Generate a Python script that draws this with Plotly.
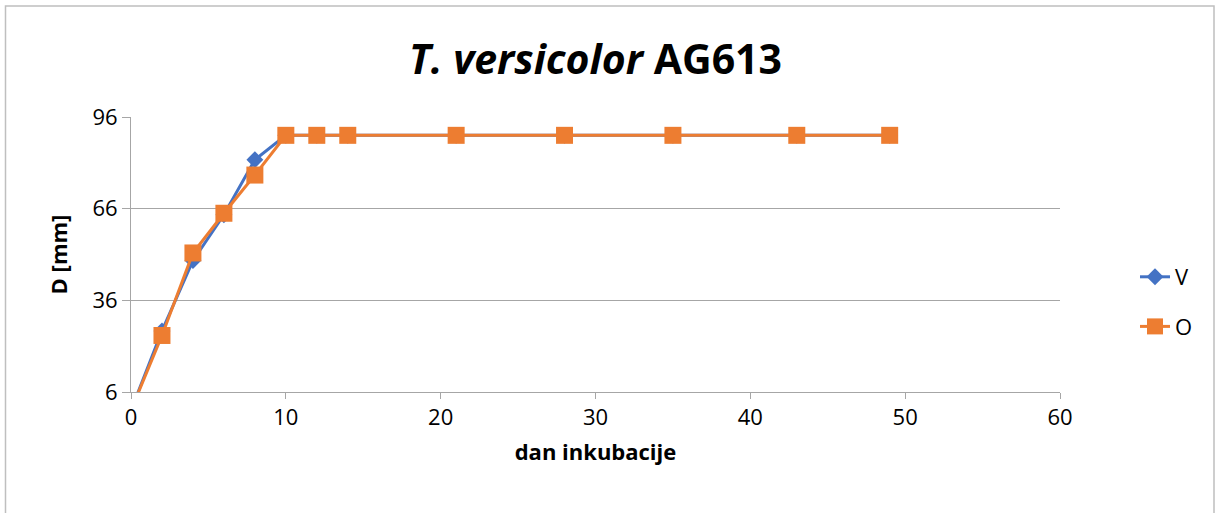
import plotly.graph_objects as go

days = [0, 2, 4, 6, 8, 10, 12, 14, 21, 28, 35, 43, 49]
v_values = [0, 26, 49, 64, 82, 90, 90, 90, 90, 90, 90, 90, 90]
o_values = [0, 24.5, 51.5, 64.5, 77, 90, 90, 90, 90, 90, 90, 90, 90]
y_ticks = [6, 36, 66, 96]
x_ticks = [0, 10, 20, 30, 40, 50, 60]

FONT = "Open Sans"
W, H = 1216, 513
L, R, T, B = 131, 156, 117, 121
pw, ph = W - L - R, H - T - B

fig = go.Figure()
fig.add_trace(go.Scatter(
    x=days, y=v_values, name="V", mode="lines+markers", legendgroup="v",
    line=dict(color="#4472C4", width=3),
    marker=dict(symbol="diamond", size=13, color="#4472C4"),
))
fig.add_trace(go.Scatter(
    x=days, y=o_values, name="O", mode="lines+markers", legendgroup="o",
    line=dict(color="#ED7D31", width=3),
    marker=dict(symbol="square", size=17, color="#ED7D31"),
))

def px_x(p):
    return (p - L) / pw

def px_y(p):
    return (H - B - p) / ph

fig.add_shape(type="rect", xref="paper", yref="paper",
              x0=px_x(5.5), x1=px_x(1214), y0=px_y(530), y1=px_y(6),
              line=dict(color="#BFBFBF", width=1.5), layer="below")

fig.update_layout(
    width=W, height=H,
    margin=dict(l=L, r=R, t=T, b=B),
    paper_bgcolor="white", plot_bgcolor="white",
    font=dict(family=FONT, color="black"),
    title=dict(text="<b><i>T. versicolor</i> AG613</b>", x=0.5, xref="paper",
               xanchor="center", y=1 - 60 / H, yanchor="middle",
               font=dict(size=41, family=FONT)),
    legend=dict(x=px_x(1135), y=px_y(256), xanchor="left", yanchor="top",
                font=dict(size=22, family=FONT),
                tracegroupgap=18, bgcolor="rgba(0,0,0,0)"),
    showlegend=True,
)
fig.update_xaxes(
    range=[0, 60], tickvals=x_ticks, ticks="outside", ticklen=6,
    tickcolor="#A6A6A6", showline=True, linecolor="#A6A6A6", linewidth=1,
    showgrid=False, zeroline=False, tickfont=dict(size=22, family=FONT),
    title=dict(text="<b>dan inkubacije</b>", font=dict(size=22, family=FONT), standoff=14),
)
fig.update_yaxes(
    range=[6, 96], tickvals=y_ticks, ticks="outside", ticklen=8,
    tickcolor="#A6A6A6", showline=True, linecolor="#A6A6A6", linewidth=1,
    showgrid=True, gridcolor="#A6A6A6", gridwidth=1, zeroline=False,
    tickfont=dict(size=22, family=FONT),
    title=dict(text="<b>D [mm]</b>", font=dict(size=22, family=FONT), standoff=18),
)

fig.write_html("out.html", config={"displayModeBar": False},
               post_script="document.body.style.margin='0';document.body.style.overflow='hidden';")
